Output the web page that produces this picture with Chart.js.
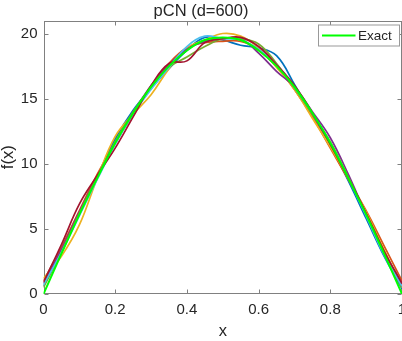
<!DOCTYPE html>
<html>
<head>
<meta charset="utf-8">
<script src="https://cdn.jsdelivr.net/npm/chart.js@4.4.0/dist/chart.umd.min.js"></script>
<style>
  body { margin: 0; background: #fff; overflow: hidden; }
  #wrap { width: 402px; height: 341px; }
</style>
</head>
<body>
<div id="wrap"><canvas id="myChart" width="402" height="341"></canvas></div>
<script>
// values, x = 0 .. 1 in steps of 0.05
var xs = [0, 0.05, 0.1, 0.15, 0.2, 0.25, 0.3, 0.35, 0.4, 0.45, 0.5, 0.55, 0.6, 0.65, 0.7, 0.75, 0.8, 0.85, 0.9, 0.95, 1];
var exact   = [0, 3.1, 6.1, 8.9, 11.6, 13.9, 15.9, 17.5, 18.7, 19.5, 19.7, 19.5, 18.7, 17.5, 15.9, 13.9, 11.6, 8.9, 6.1, 3.1, 0];
var blue    = [0.6, 3.3, 6.2, 9.0, 11.9, 14.1, 15.8, 17.3, 18.7, 19.7, 19.5, 19.1, 18.9, 18.3, 16.1, 13.7, 11.4, 8.7, 5.8, 2.9, 0.4];
var orange  = [1.0, 3.6, 6.4, 9.2, 11.6, 13.8, 15.9, 17.7, 18.9, 19.3, 19.4, 19.4, 18.8, 17.5, 15.7, 13.6, 11.2, 8.8, 6.4, 3.7, 1.0];
var yellow  = [1.2, 2.9, 5.3, 8.9, 12.1, 13.8, 15.3, 17.3, 18.9, 19.5, 20.0, 19.8, 18.9, 17.4, 15.7, 13.5, 11.3, 8.9, 6.3, 3.4, 0.5];
var purple  = [0.8, 3.4, 6.3, 9.0, 11.6, 13.9, 16.0, 17.6, 18.8, 19.4, 19.6, 19.6, 18.5, 17.1, 15.9, 14.0, 12.0, 9.2, 6.1, 3.2, 0.8];
var green   = [0.5, 3.2, 6.2, 9.0, 11.7, 14.0, 15.9, 17.4, 18.2, 19.0, 19.6, 19.6, 19.2, 17.7, 15.8, 13.8, 11.7, 9.0, 6.1, 3.2, 0.5];
var cyan    = [0.7, 3.2, 6.0, 8.8, 11.5, 13.8, 15.7, 17.4, 19.0, 19.8, 19.6, 19.5, 18.8, 17.6, 15.9, 13.9, 11.6, 8.9, 6.0, 3.0, 0.6];
var darkred = [0.9, 3.8, 6.9, 9.1, 11.2, 13.6, 16.0, 17.7, 17.9, 19.3, 19.6, 19.7, 19.0, 17.6, 16.0, 13.9, 11.5, 8.9, 6.2, 3.3, 0.8];

var xTicks = [0, 0.2, 0.4, 0.6, 0.8, 1];
var yTicks = [0, 5, 10, 15, 20];

var FONT = "'Liberation Sans', Arial, Helvetica, sans-serif";
var TXT = "#262626";
var AXIS = "#808080";

function pts(arr) {
  return xs.map(function (x, i) { return { x: x, y: arr[i] }; });
}

function line(label, arr, color, w) {
  return {
    label: label,
    data: pts(arr),
    borderColor: color,
    backgroundColor: color,
    borderWidth: w,
    pointRadius: 0,
    tension: 0.4,
    fill: false,
  };
}

// box with inward ticks on all four sides, MATLAB style
var axesBox = {
  id: "axesBox",
  beforeDatasetsDraw: function (chart) {
    var ctx = chart.ctx, a = chart.chartArea;
    var sx = chart.scales.x, sy = chart.scales.y;
    var l = Math.round(a.left) + 0.5, r = Math.round(a.right) - 0.5;
    var t = Math.round(a.top) + 0.5, b = Math.round(a.bottom) - 0.5;
    ctx.save();
    ctx.strokeStyle = AXIS;
    ctx.lineWidth = 1;
    ctx.strokeRect(l, t, r - l, b - t);
    ctx.beginPath();
    xTicks.forEach(function (v) {
      var p = Math.round(sx.getPixelForValue(v)) + 0.5;
      ctx.moveTo(p, b); ctx.lineTo(p, b - 4);
      ctx.moveTo(p, t); ctx.lineTo(p, t + 4);
    });
    yTicks.forEach(function (v) {
      var p = Math.round(sy.getPixelForValue(v)) + 0.5;
      ctx.moveTo(l, p); ctx.lineTo(l + 4, p);
      ctx.moveTo(r, p); ctx.lineTo(r - 4, p);
    });
    ctx.stroke();
    ctx.restore();
  },
  afterDatasetsDraw: function (chart) {
    var ctx = chart.ctx, a = chart.chartArea;
    var bx = a.right - 83.5, by = a.top + 4.5;
    ctx.save();
    ctx.fillStyle = "#fff";
    ctx.fillRect(bx, by, 81, 21);
    ctx.strokeStyle = "#999";
    ctx.lineWidth = 1;
    ctx.strokeRect(bx, by, 81, 21);
    ctx.strokeStyle = "#00ff00";
    ctx.lineWidth = 2;
    ctx.beginPath();
    ctx.moveTo(bx + 3.5, by + 10.5);
    ctx.lineTo(bx + 37, by + 10.5);
    ctx.stroke();
    ctx.fillStyle = TXT;
    ctx.font = "13.5px " + FONT;
    ctx.textBaseline = "middle";
    ctx.fillText(chart.data.datasets[0].label, bx + 39.5, by + 11);
    ctx.restore();
  },
};

var ctx = document.getElementById("myChart").getContext("2d");
var chart = new Chart(ctx, {
  type: "line",
  data: {
    datasets: [
      line("Exact", exact, "#00ff00", 2),
      line("s7", darkred, "#A2142F", 1.7),
      line("s6", cyan, "#4DBEEE", 1.7),
      line("s5", green, "#77AC30", 1.7),
      line("s4", purple, "#7E2F8E", 1.7),
      line("s3", yellow, "#EDB120", 1.7),
      line("s2", orange, "#D95319", 1.7),
      line("s1", blue, "#0072BD", 1.7),
    ],
  },
  options: {
    responsive: false,
    animation: false,
    devicePixelRatio: 1,
    layout: { padding: 0 },
    plugins: {
      legend: { display: false },
      tooltip: { enabled: false },
      title: {
        display: true,
        text: "pCN (d=600)",
        color: TXT,
        font: { family: FONT, size: 16.5, weight: "normal" },
        padding: { top: 1.5, bottom: -0.8 },
      },
    },
    scales: {
      x: {
        type: "linear",
        min: 0,
        max: 1,
        afterBuildTicks: function (s) { s.ticks = xTicks.map(function (v) { return { value: v }; }); },
        afterFit: function (s) { s.height = 47; s.paddingLeft = 0; s.paddingRight = 0; },
        grid: { display: false, drawTicks: false },
        border: { display: false },
        ticks: {
          padding: 7,
          color: TXT,
          maxRotation: 0,
          autoSkip: false,
          font: { family: FONT, size: 15 },
          callback: function (v) { return String(v); },
        },
        title: {
          display: true,
          text: "x",
          color: TXT,
          font: { family: FONT, size: 16.5 },
          padding: 0,
        },
      },
      y: {
        type: "linear",
        min: 0,
        max: 21,
        afterBuildTicks: function (s) { s.ticks = yTicks.map(function (v) { return { value: v }; }); },
        afterFit: function (s) { s.width = 43.5; },
        grid: { display: false, drawTicks: false },
        border: { display: false },
        ticks: {
          padding: 6,
          color: TXT,
          autoSkip: false,
          font: { family: FONT, size: 15 },
          callback: function (v) { return String(v); },
        },
        title: {
          display: true,
          text: "f(x)",
          color: TXT,
          font: { family: FONT, size: 16.5 },
          padding: { top: -1.5, bottom: 0 },
        },
      },
    },
  },
  plugins: [axesBox],
});
</script>
</body>
</html>
